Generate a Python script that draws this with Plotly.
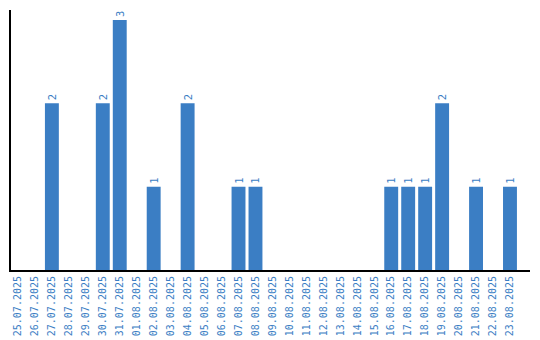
import plotly.graph_objects as go

dates = ["25.07.2025", "26.07.2025", "27.07.2025", "28.07.2025", "29.07.2025", "30.07.2025",
         "31.07.2025", "01.08.2025", "02.08.2025", "03.08.2025", "04.08.2025", "05.08.2025",
         "06.08.2025", "07.08.2025", "08.08.2025", "09.08.2025", "10.08.2025", "11.08.2025",
         "12.08.2025", "13.08.2025", "14.08.2025", "15.08.2025", "16.08.2025", "17.08.2025",
         "18.08.2025", "19.08.2025", "20.08.2025", "21.08.2025", "22.08.2025", "23.08.2025"]
counts = [0, 0, 2, 0, 0, 2, 3, 0, 1, 0, 2, 0, 0, 1, 1, 0, 0, 0, 0, 0, 0, 0, 1, 1, 1, 2, 0, 1, 0, 1]

blue = "#3b7ec4"
labels = [str(v) if v > 0 else "" for v in counts]

fig = go.Figure(go.Bar(
    x=dates, y=counts, marker_color=blue, marker_line_width=0,
    text=labels, textposition="outside", textangle=-90,
    textfont=dict(family="DejaVu Sans Mono", size=10.5, color=blue),
    cliponaxis=False,
))
fig.update_layout(
    width=540, height=340, margin=dict(l=11, r=10, t=10, b=70, autoexpand=False),
    paper_bgcolor="white", plot_bgcolor="white", bargap=0.18, showlegend=False,
)
fig.update_xaxes(type="category", range=[-0.41, 30.18], showline=True, linecolor="black", linewidth=2,
                 showgrid=False, ticks="", tickangle=-90, automargin=False,
                 tickfont=dict(family="DejaVu Sans Mono", size=10, color=blue))
fig.update_yaxes(range=[0, 3.12], showline=True, linecolor="black", linewidth=2, automargin=False,
                 showgrid=False, zeroline=False, showticklabels=False, ticks="")
fig.write_html("out.html")
